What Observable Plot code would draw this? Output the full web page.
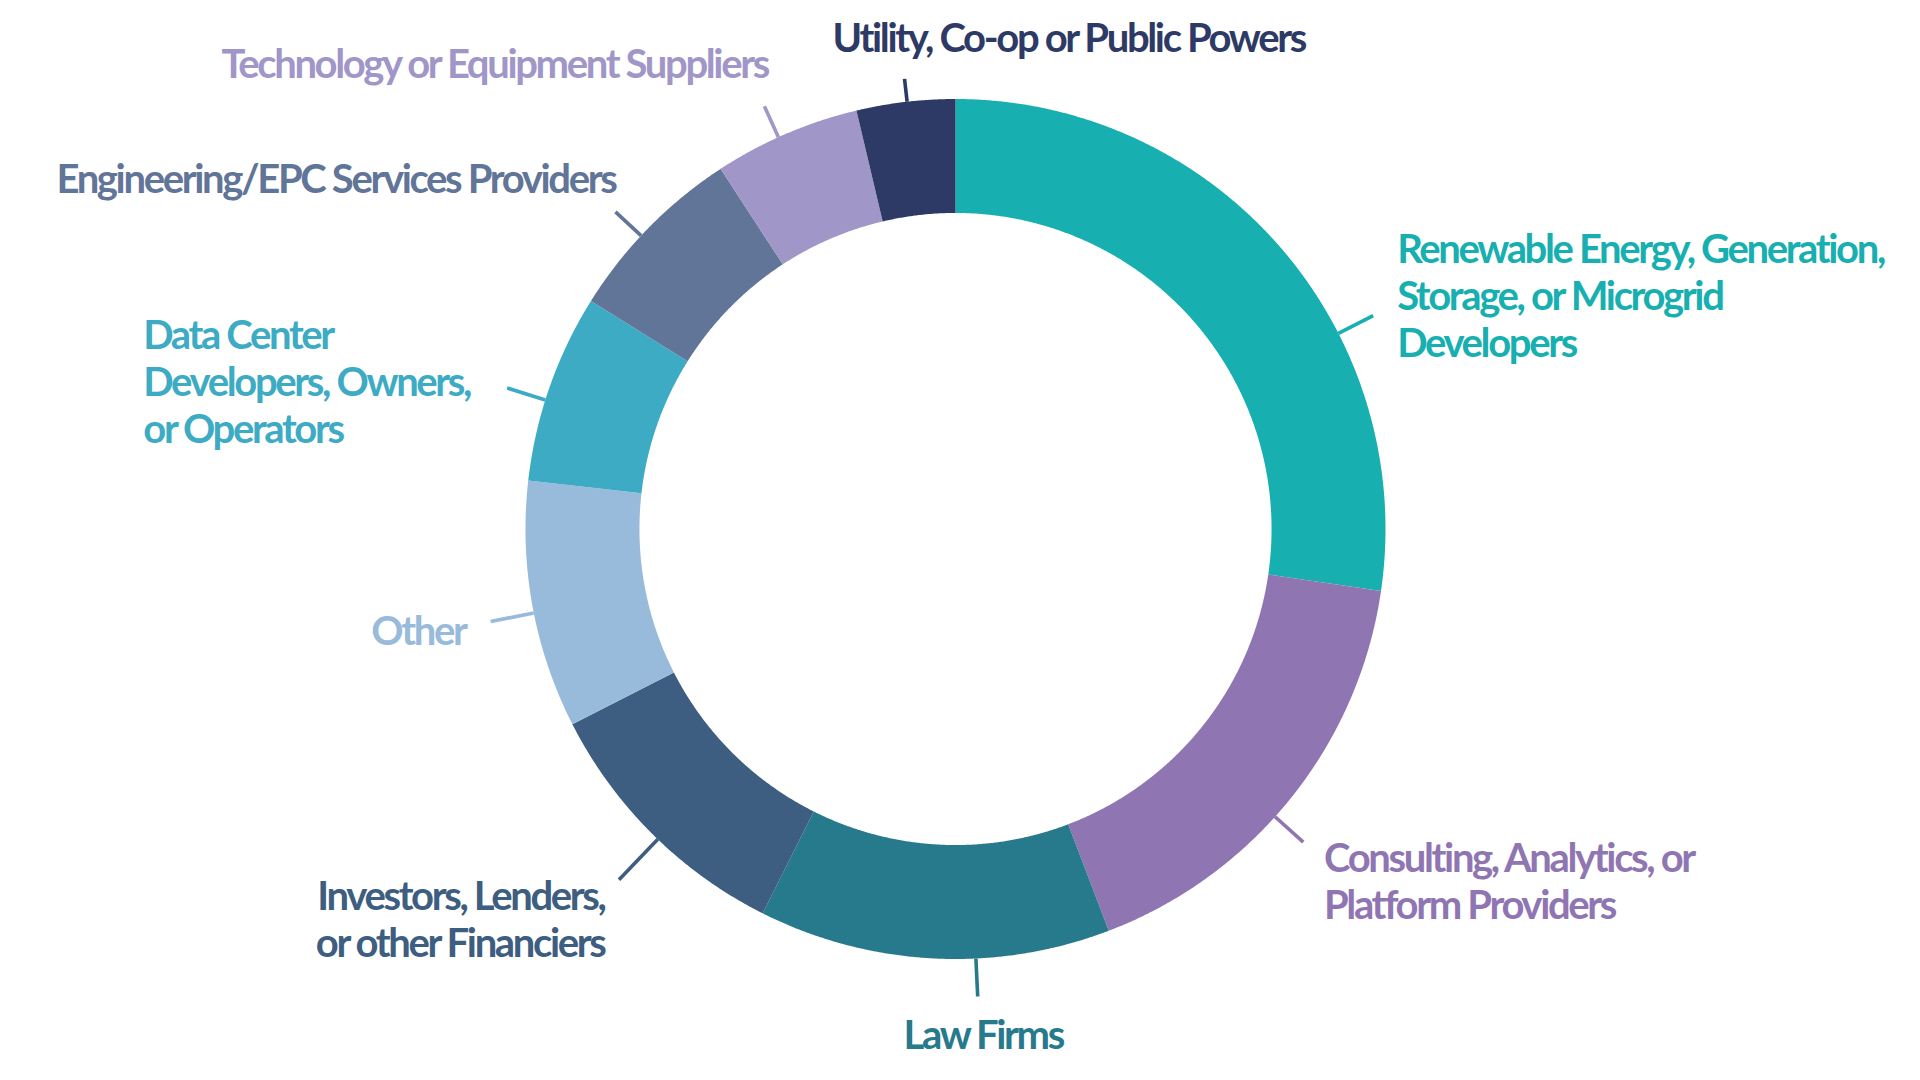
<!DOCTYPE html>
<html>
<head>
<meta charset="utf-8">
<script src="https://cdn.jsdelivr.net/npm/d3@7"></script>
<script src="https://cdn.jsdelivr.net/npm/@observablehq/plot@0.6"></script>
<style>
  html, body { margin: 0; padding: 0; background: #ffffff; }
  #chart svg { display: block; }
  #chart svg text { letter-spacing: -2.35px; }
</style>
</head>
<body>
<div id="chart"></div>
<script>
// ---- Data ----
const categories = [
  "Renewable Energy, Generation, Storage, or Microgrid Developers",
  "Consulting, Analytics, or Platform Providers",
  "Law Firms",
  "Investors, Lenders, or other Financiers",
  "Other",
  "Data Center Developers, Owners, or Operators",
  "Engineering/EPC Services Providers",
  "Technology or Equipment Suppliers",
  "Utility, Co-op or Public Powers"
];
const labelText = [
  "Renewable Energy, Generation,\nStorage, or Microgrid\nDevelopers",
  "Consulting, Analytics, or\nPlatform Providers",
  "Law Firms",
  "Investors, Lenders,\nor other Financiers",
  "Other",
  "Data Center\nDevelopers, Owners,\nor Operators",
  "Engineering/EPC Services Providers",
  "Technology or Equipment Suppliers",
  "Utility, Co-op or Public Powers"
];
const shares = [27.3, 16.9, 13.2, 10.1, 9.3, 7.1, 6.9, 5.5, 3.7];

// ---- Style ----
const colors = ["#17AFB0", "#8F76B3", "#27798C", "#3D5E80", "#98BADB", "#3DABC4", "#617598", "#A196C8", "#2E3A66"];
// label placement tweaks (leader rotation in degrees, leader length and text offset in px)
const labelLayout = [
  {rot: 13.8, len: 39, anchor: "start",  tx: 24,    ty: -53},
  {rot: 3.3,  len: 38, anchor: "start",  tx: 20.7,  ty: 30.2},
  {rot: -5.6, len: 38, anchor: "middle", tx: 5.5,   ty: 52.4},
  {rot: -1,   len: 56, anchor: "end",    tx: -14.5, ty: 30.4},
  {rot: -1,   len: 44, anchor: "end",    tx: -25,   ty: 23.3},
  {rot: -1.8, len: 40, anchor: "start",  tx: -363.9,ty: -39.1},
  {rot: -1.45,len: 35, anchor: "end",    tx: 0,     ty: -19},
  {rot: -1.1, len: 34, anchor: "end",    tx: 3.5,   ty: -28.6},
  {rot: 0.2,  len: 23, anchor: "start",  tx: -72,   ty: -27}
];

const W = 1920, H = 1080, CX = 955, CY = 528.5, R = 430, INNER = 0.735;
const FS = 40, LH = 47 / 40;

const total = d3.sum(shares);
let acc = 0;
const slices = categories.map((c, i) => {
  const a0 = acc / total * 360;
  acc += shares[i];
  const a1 = acc / total * 360;
  return {i, c, a0, a1, mid: (a0 + a1) / 2};
});
const rad = d => d * Math.PI / 180;
const toX = px => (px - CX) / R;
const toY = py => (CY - py) / R;

function ringPoints(s) {
  const pts = [];
  const n = Math.max(2, Math.ceil((s.a1 - s.a0) / 0.25));
  for (let k = 0; k <= n; k++) {
    const a = rad(s.a0 + (s.a1 - s.a0) * k / n);
    pts.push({x: Math.sin(a), y: Math.cos(a)});
  }
  for (let k = n; k >= 0; k--) {
    const a = rad(s.a0 + (s.a1 - s.a0) * k / n);
    pts.push({x: INNER * Math.sin(a), y: INNER * Math.cos(a)});
  }
  return pts;
}

const marks = [];
slices.forEach(s => {
  marks.push(Plot.line(ringPoints(s), {x: "x", y: "y", fill: colors[s.i], stroke: "none", curve: "linear"}));
});

slices.forEach(s => {
  const L = labelLayout[s.i];
  const phi = rad(s.mid + L.rot);
  const ex = CX + (R + L.len) * Math.sin(phi);
  const ey = CY - (R + L.len) * Math.cos(phi);
  const leader = [{x1: Math.sin(phi), y1: Math.cos(phi), x2: toX(ex), y2: toY(ey)}];
  marks.push(Plot.link(leader, {x1: "x1", y1: "y1", x2: "x2", y2: "y2", stroke: colors[s.i], strokeWidth: 3.6}));
  const tx = ex + L.tx;
  const baseline = ey + L.ty;
  const topY = baseline - 0.71 * LH * FS;
  marks.push(Plot.text([labelText[s.i]], {
    x: () => toX(tx), y: () => toY(topY), text: d => d,
    textAnchor: L.anchor, lineAnchor: "top", lineHeight: LH,
    fontSize: FS, fontFamily: "Lato", fontWeight: 700, fill: colors[s.i]
  }));
});

const chart = Plot.plot({
  width: W, height: H, margin: 0,
  x: {domain: [toX(0), toX(W)], axis: null},
  y: {domain: [toY(H), toY(0)], axis: null},
  style: {background: "#ffffff", overflow: "visible"},
  marks
});
document.getElementById("chart").appendChild(chart);
</script>
</body>
</html>
